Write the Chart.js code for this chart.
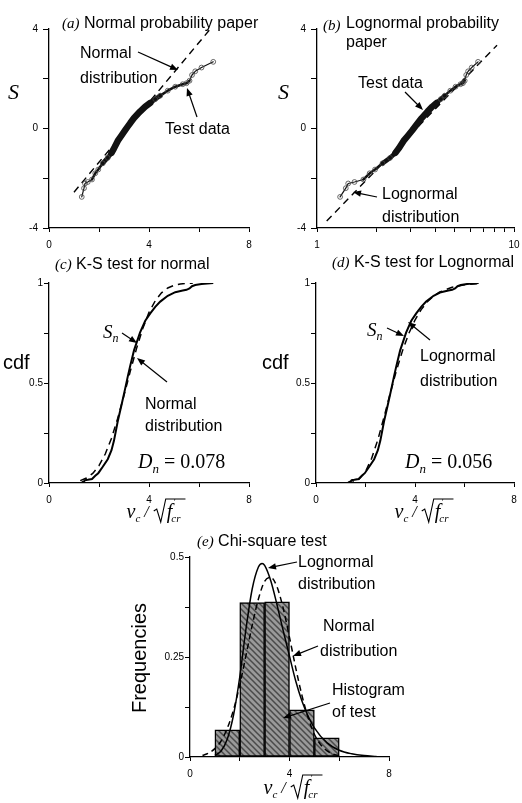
<!DOCTYPE html>
<html>
<head>
<meta charset="utf-8">
<script src="https://cdn.jsdelivr.net/npm/chart.js@4.4.1/dist/chart.umd.min.js"></script>
<style>
  body { margin: 0; background: #fff; }
  #wrap { position: relative; width: 522px; height: 803px; }
  canvas { position: absolute; }
</style>
</head>
<body>
<div id="wrap">
  <canvas id="pa" width="261" height="262" style="left:0;top:0"></canvas>
  <canvas id="pb" width="261" height="262" style="left:261px;top:0"></canvas>
  <canvas id="pc" width="261" height="280" style="left:0;top:250px"></canvas>
  <canvas id="pd" width="261" height="280" style="left:261px;top:250px"></canvas>
  <canvas id="pe" width="522" height="273" style="left:0;top:530px"></canvas>
</div>
<script>
// test data: sorted v_c / sqrt(f'cr) against standard normal variate S
const testX = [1.31, 1.40, 1.44, 1.55, 1.72, 1.85, 1.97, 2.15, 2.35, 2.50, 2.60, 2.75, 2.90, 3.04, 3.15, 3.25,
  3.40, 3.64, 3.85, 4.05, 4.25, 4.45, 4.75, 5.05, 5.35, 5.50, 5.62, 5.72, 5.85, 6.10, 6.57];
const testS = [-2.75, -2.40, -2.21, -2.15, -2.05, -1.80, -1.65, -1.40, -1.18, -0.98, -0.80, -0.50, -0.28, -0.08, 0.08, 0.22,
  0.42, 0.68, 0.88, 1.03, 1.18, 1.32, 1.52, 1.68, 1.78, 1.82, 1.92, 2.15, 2.30, 2.45, 2.68];
const testCdf = [0.003, 0.008, 0.014, 0.016, 0.020, 0.036, 0.049, 0.081, 0.119, 0.164, 0.212, 0.309, 0.390, 0.468, 0.532, 0.587,
  0.663, 0.752, 0.811, 0.848, 0.881, 0.907, 0.936, 0.954, 0.962, 0.966, 0.973, 0.984, 0.990, 0.995, 1.0];

// fitted lines on probability paper
const normLineX = [1.0, 6.45];
const normLineS = [-2.56, 4.0];
const logLineX = [1.12, 8.2];
const logLineS = [-3.72, 3.35];

// fitted cdfs
const normCdfX = [1.25, 1.5, 1.75, 2.0, 2.25, 2.5, 2.75, 3.0, 3.25, 3.5, 3.75, 4.0, 4.25, 4.5, 4.75, 5.0, 5.25, 5.5, 5.75];
const normCdf = [0.012, 0.025, 0.048, 0.087, 0.145, 0.224, 0.324, 0.438, 0.558, 0.672, 0.772, 0.853, 0.911, 0.951, 0.975, 0.988, 0.995, 0.998, 0.999];
const logCdfX = [1.25, 1.5, 1.75, 2.0, 2.25, 2.5, 2.75, 3.0, 3.25, 3.5, 3.75, 4.0, 4.25, 4.5, 4.75, 5.0, 5.5, 6.0, 6.5];
const logCdf = [0.001, 0.005, 0.020, 0.057, 0.124, 0.217, 0.330, 0.449, 0.562, 0.663, 0.748, 0.815, 0.867, 0.906, 0.935, 0.955, 0.979, 0.991, 0.996];

// histogram and fitted pdfs
const binMid = [1.5, 2.5, 3.5, 4.5, 5.5];
const binFreq = [0.068, 0.386, 0.388, 0.118, 0.048];
const normPdfX = [0.5, 0.75, 1.0, 1.25, 1.5, 1.75, 2.0, 2.25, 2.5, 2.75, 3.0, 3.25, 3.5, 3.75, 4.0, 4.25, 4.5, 4.75, 5.0, 5.25, 5.5, 5.75, 6.0];
const normPdf = [0.004, 0.010, 0.021, 0.040, 0.072, 0.118, 0.180, 0.254, 0.329, 0.395, 0.439, 0.449, 0.425, 0.371, 0.299, 0.223, 0.154, 0.098, 0.057, 0.031, 0.016, 0.007, 0.003];
const logPdfX = [1.0, 1.25, 1.5, 1.75, 2.0, 2.25, 2.5, 2.75, 2.9, 3.0, 3.25, 3.5, 3.75, 4.0, 4.25, 4.5, 4.75, 5.0, 5.5, 6.0, 6.5, 7.0, 7.5];
const logPdf = [0.004, 0.015, 0.045, 0.105, 0.200, 0.320, 0.420, 0.475, 0.484, 0.479, 0.440, 0.380, 0.315, 0.252, 0.190, 0.140, 0.102, 0.073, 0.036, 0.017, 0.008, 0.0035, 0.0015];

// tick labels
const sTicks = [-4, 0, 4];
const xTicks = [0, 4, 8];
const logTicks = [1, 2, 3, 4, 5, 6, 7, 8, 9, 10];
const logLabels = [1, 10];
const cdfTicks = [0, 0.5, 1];
const freqTicks = [0, 0.25, 0.5];

const SANS = '"Liberation Sans", Arial, sans-serif';
const SERIF = '"Liberation Serif", "Times New Roman", serif';
const ti = s => 'italic ' + s + 'px ' + SERIF;
const tr = s => s + 'px ' + SERIF;
const sa = s => s + 'px ' + SANS;

const pts = (xs, ys) => xs.map((x, i) => ({ x: x, y: ys[i] }));

// ---- text / arrows drawn on top of each panel (page coordinates) ----
const notes = {
  pa: { ox: 0, oy: 0, items: [
    { x: 62, y: 28, runs: [['(a)', ti(15)], [' Normal probability paper', sa(16)]] },
    { x: 8, y: 99, runs: [['S', ti(22)]] },
    { x: 80, y: 58, runs: [['Normal', sa(16)]] },
    { x: 80, y: 83, runs: [['distribution', sa(16)]] },
    { arrow: [138, 52, 178, 70] },
    { x: 165, y: 134, runs: [['Test data', sa(16)]] },
    { arrow: [197, 117, 187, 88] }
  ]},
  pb: { ox: 261, oy: 0, items: [
    { x: 323, y: 30, runs: [['(b)', ti(15)]] },
    { x: 346, y: 28, runs: [['Lognormal probability', sa(16)]] },
    { x: 346, y: 47, runs: [['paper', sa(16)]] },
    { x: 278, y: 99, runs: [['S', ti(22)]] },
    { x: 358, y: 88, runs: [['Test data', sa(16)]] },
    { arrow: [405, 92, 423, 110] },
    { x: 382, y: 199, runs: [['Lognormal', sa(16)]] },
    { x: 382, y: 222, runs: [['distribution', sa(16)]] },
    { arrow: [377, 197, 353, 192] }
  ]},
  pc: { ox: 0, oy: 250, items: [
    { x: 55, y: 269, runs: [['(c)', ti(15)], [' K-S test for normal', sa(16)]] },
    { x: 3, y: 369, runs: [['cdf', sa(20)]] },
    { x: 103, y: 338, runs: [['S', ti(19)], ['n', ti(12), 4]] },
    { arrow: [122, 333, 137, 343] },
    { x: 145, y: 409, runs: [['Normal', sa(16)]] },
    { x: 145, y: 431, runs: [['distribution', sa(16)]] },
    { arrow: [167, 382, 137, 358] },
    { x: 138, y: 468, runs: [['D', ti(20)], ['n', ti(13), 5], [' = 0.078', tr(20)]] },
    { vc: true, x: 156, y: 518 }
  ]},
  pd: { ox: 261, oy: 250, items: [
    { x: 514, y: 267, align: 'right', runs: [['(d)', ti(15)], [' K-S test for Lognormal', sa(16)]] },
    { x: 262, y: 369, runs: [['cdf', sa(20)]] },
    { x: 367, y: 336, runs: [['S', ti(19)], ['n', ti(12), 4]] },
    { arrow: [387, 328, 404, 336] },
    { x: 420, y: 361, runs: [['Lognormal', sa(16)]] },
    { x: 420, y: 386, runs: [['distribution', sa(16)]] },
    { arrow: [430, 340, 408, 322] },
    { x: 405, y: 468, runs: [['D', ti(20)], ['n', ti(13), 5], [' = 0.056', tr(20)]] },
    { vc: true, x: 424, y: 518 }
  ]},
  pe: { ox: 0, oy: 530, items: [
    { x: 197, y: 546, runs: [['(e)', ti(15)], [' Chi-square test', sa(16)]] },
    { x: 146, y: 658, rot: -Math.PI / 2, align: 'center', runs: [['Frequencies', sa(20)]] },
    { x: 298, y: 567, runs: [['Lognormal', sa(16)]] },
    { x: 298, y: 589, runs: [['distribution', sa(16)]] },
    { arrow: [297, 562, 268, 568] },
    { x: 323, y: 631, runs: [['Normal', sa(16)]] },
    { x: 320, y: 656, runs: [['distribution', sa(16)]] },
    { arrow: [318, 646, 293, 656] },
    { x: 332, y: 695, runs: [['Histogram', sa(16)]] },
    { x: 332, y: 717, runs: [['of test', sa(16)]] },
    { arrow: [330, 703, 283, 718] },
    { vc: true, x: 293, y: 794 }
  ]}
};

function drawRuns(ctx, it) {
  let w = 0;
  it.runs.forEach(r => { ctx.font = r[1]; w += ctx.measureText(r[0]).width; });
  ctx.save();
  ctx.translate(it.x, it.y);
  if (it.rot) ctx.rotate(it.rot);
  let cx = it.align === 'center' ? -w / 2 : it.align === 'right' ? -w : 0;
  ctx.textAlign = 'left';
  ctx.textBaseline = 'alphabetic';
  it.runs.forEach(r => {
    ctx.font = r[1];
    ctx.fillText(r[0], cx, r[2] || 0);
    cx += ctx.measureText(r[0]).width;
  });
  ctx.restore();
}

function drawArrow(ctx, x1, y1, x2, y2) {
  const a = Math.atan2(y2 - y1, x2 - x1), L = 8, H = 3.2;
  ctx.lineWidth = 1.2;
  ctx.beginPath();
  ctx.moveTo(x1, y1);
  ctx.lineTo(x2 - Math.cos(a) * L * 0.8, y2 - Math.sin(a) * L * 0.8);
  ctx.stroke();
  ctx.beginPath();
  ctx.moveTo(x2, y2);
  ctx.lineTo(x2 - Math.cos(a) * L - Math.sin(a) * H, y2 - Math.sin(a) * L + Math.cos(a) * H);
  ctx.lineTo(x2 - Math.cos(a) * L + Math.sin(a) * H, y2 - Math.sin(a) * L - Math.cos(a) * H);
  ctx.closePath();
  ctx.fill();
}

// v_c / sqrt(f'_cr)
function drawVc(ctx, cx, by) {
  const parts = [['v', ti(20)], ['c', ti(11)], ['/', ti(16)], ['f', ti(20)], ['cr', ti(11)]];
  const w = parts.map(p => { ctx.font = p[1]; return ctx.measureText(p[0]).width; });
  const rad = 12;
  const total = w[0] + w[1] + 4 + w[2] + 5 + rad + w[3] + 2 + w[4] + 3;
  let x = cx - total / 2;
  ctx.textBaseline = 'alphabetic';
  ctx.textAlign = 'left';
  ctx.font = parts[0][1]; ctx.fillText('v', x, by); x += w[0];
  ctx.font = parts[1][1]; ctx.fillText('c', x, by + 4); x += w[1] + 4;
  ctx.font = parts[2][1]; ctx.fillText('/', x, by - 1); x += w[2] + 5;
  const top = by - 19, inner = w[3] + 2 + w[4] + 3;
  ctx.lineWidth = 1.1;
  ctx.beginPath();
  ctx.moveTo(x, by - 7);
  ctx.lineTo(x + 3, by - 9);
  ctx.lineTo(x + 7, by + 4);
  ctx.lineTo(x + rad, top);
  ctx.lineTo(x + rad + inner, top);
  ctx.stroke();
  x += rad + 1;
  ctx.font = parts[3][1]; ctx.fillText('f', x, by);
  ctx.font = ti(9); ctx.fillText('\u2032', x + w[3] + 1, by - 13);
  ctx.font = parts[4][1]; ctx.fillText('cr', x + w[3] - 1, by + 4);
}

const decor = {
  id: 'decor',
  afterDraw(chart) {
    const n = notes[chart.canvas.id];
    if (!n) return;
    const ctx = chart.ctx;
    ctx.save();
    ctx.translate(-n.ox, -n.oy);
    ctx.fillStyle = '#000';
    ctx.strokeStyle = '#000';
    n.items.forEach(it => {
      if (it.arrow) drawArrow(ctx, ...it.arrow);
      else if (it.vc) drawVc(ctx, it.x, it.y);
      else drawRuns(ctx, it);
    });
    ctx.restore();
  }
};

function axis(pos, min, max, step, shown, size, tick, pad) {
  return {
    type: 'linear', position: pos, min: min, max: max, offset: false,
    ticks: {
      stepSize: step, autoSkip: false, maxRotation: 0, padding: pad, color: '#000',
      font: { family: SANS, size: 10 },
      callback: v => shown.some(s => Math.abs(s - v) < 1e-9) ? String(v) : ''
    },
    grid: { drawOnChartArea: false, drawTicks: true, tickLength: tick, tickColor: '#000', tickWidth: 1, offset: false },
    border: { display: true, color: '#000', width: 1.3 },
    afterFit: s => {
      if (pos === 'bottom') { s.height = size; s.paddingLeft = 0; s.paddingRight = 0; }
      else s.width = size;
    }
  };
}

function logAxis(size) {
  const a = axis('bottom', 1, 10, 1, logLabels, size, 4, 7);
  a.type = 'logarithmic';
  delete a.ticks.stepSize;
  a.afterBuildTicks = s => { s.ticks = logTicks.map(v => ({ value: v })); };
  return a;
}

function options(pad, xs, ys) {
  return {
    responsive: false, animation: false, devicePixelRatio: 1,
    layout: { padding: pad },
    plugins: { legend: { display: false }, tooltip: { enabled: false } },
    elements: { point: { radius: 0 }, line: { tension: 0 } },
    scales: { x: xs, y: ys }
  };
}

// thick band where the many test points overlap
const bandWidth = c => {
  const s = Math.abs((c.p0.parsed.y + c.p1.parsed.y) / 2);
  return s < 1.0 ? 6.5 : s < 1.3 ? 4.5 : s < 2.0 ? 2.5 : 1.2;
};

function testSeries(ys) {
  return {
    data: pts(testX, ys), borderColor: '#111', borderWidth: 1.2,
    borderCapStyle: 'round', borderJoinStyle: 'round',
    segment: { borderWidth: bandWidth },
    pointRadius: c => Math.abs(testS[c.dataIndex]) > 1.1 ? 2.4 : 0,
    pointBackgroundColor: 'rgba(0,0,0,0)', pointBorderColor: '#444', pointBorderWidth: 0.8,
    order: 0
  };
}

function dashed(xs, ys, w) {
  return { data: pts(xs, ys), borderColor: '#000', borderWidth: w || 1.4, borderDash: [7, 5], pointRadius: 0, order: 1 };
}

// (a) normal probability paper
new Chart(document.getElementById('pa'), {
  type: 'line',
  data: { datasets: [testSeries(testS), dashed(normLineX, normLineS)] },
  options: options({ top: 29, right: 12, left: 0, bottom: 0 },
    axis('bottom', 0, 8, 2, xTicks, 34, 4, 7),
    axis('left', -4, 4, 2, sTicks, 49, 6, 5)),
  plugins: [decor]
});

// (b) lognormal probability paper
new Chart(document.getElementById('pb'), {
  type: 'line',
  data: { datasets: [testSeries(testS), dashed(logLineX, logLineS)] },
  options: options({ top: 29, right: 8, left: 0, bottom: 0 },
    logAxis(34),
    axis('left', -4, 4, 2, sTicks, 56, 6, 5)),
  plugins: [decor]
});

function cdfChart(id, yw, fitX, fitY) {
  new Chart(document.getElementById(id), {
    type: 'line',
    data: { datasets: [
      { data: pts(testX, testCdf), borderColor: '#000', borderWidth: 2, pointRadius: 0, order: 0 },
      dashed(fitX, fitY, 1.5)
    ]},
    options: options({ top: 33, right: id === 'pc' ? 12 : 8, left: 0, bottom: 0 },
      axis('bottom', 0, 8, 2, xTicks, 47, 4, 7),
      axis('left', 0, 1, 0.25, cdfTicks, yw, 5, 1)),
    plugins: [decor]
  });
}
cdfChart('pc', 49, normCdfX, normCdf);
cdfChart('pd', 55, logCdfX, logCdf);

// (e) chi-square test: histogram with fitted pdfs
const pe = document.getElementById('pe');
const tile = document.createElement('canvas');
tile.width = 6; tile.height = 6;
const tg = tile.getContext('2d');
tg.fillStyle = '#999';
tg.fillRect(0, 0, 6, 6);
tg.strokeStyle = '#4a4a4a';
tg.lineWidth = 1.5;
tg.beginPath();
tg.moveTo(0, 0); tg.lineTo(6, 6);
tg.moveTo(-3, 3); tg.lineTo(3, 9);
tg.moveTo(3, -3); tg.lineTo(9, 3);
tg.stroke();
const hatch = pe.getContext('2d').createPattern(tile, 'repeat');

const eOpts = options({ top: 27, right: 133, left: 0, bottom: 0 },
  axis('bottom', 0, 8, 2, xTicks, 46, 4, 7),
  axis('left', 0, 0.5, 0.125, freqTicks, 190, 5, 1));

new Chart(pe, {
  type: 'bar',
  data: { datasets: [
    { type: 'line', data: pts(logPdfX, logPdf), borderColor: '#000', borderWidth: 1.5, pointRadius: 0, cubicInterpolationMode: 'monotone', order: 0 },
    { type: 'line', data: pts(normPdfX, normPdf), borderColor: '#000', borderWidth: 1.5, borderDash: [6, 4], pointRadius: 0, cubicInterpolationMode: 'monotone', order: 1 },
    { type: 'bar', data: pts(binMid, binFreq), backgroundColor: hatch, borderColor: '#000', borderWidth: 1.5,
      borderSkipped: false, barPercentage: 1, categoryPercentage: 1, grouped: false, order: 2 }
  ]},
  options: eOpts,
  plugins: [decor]
});
</script>
</body>
</html>
